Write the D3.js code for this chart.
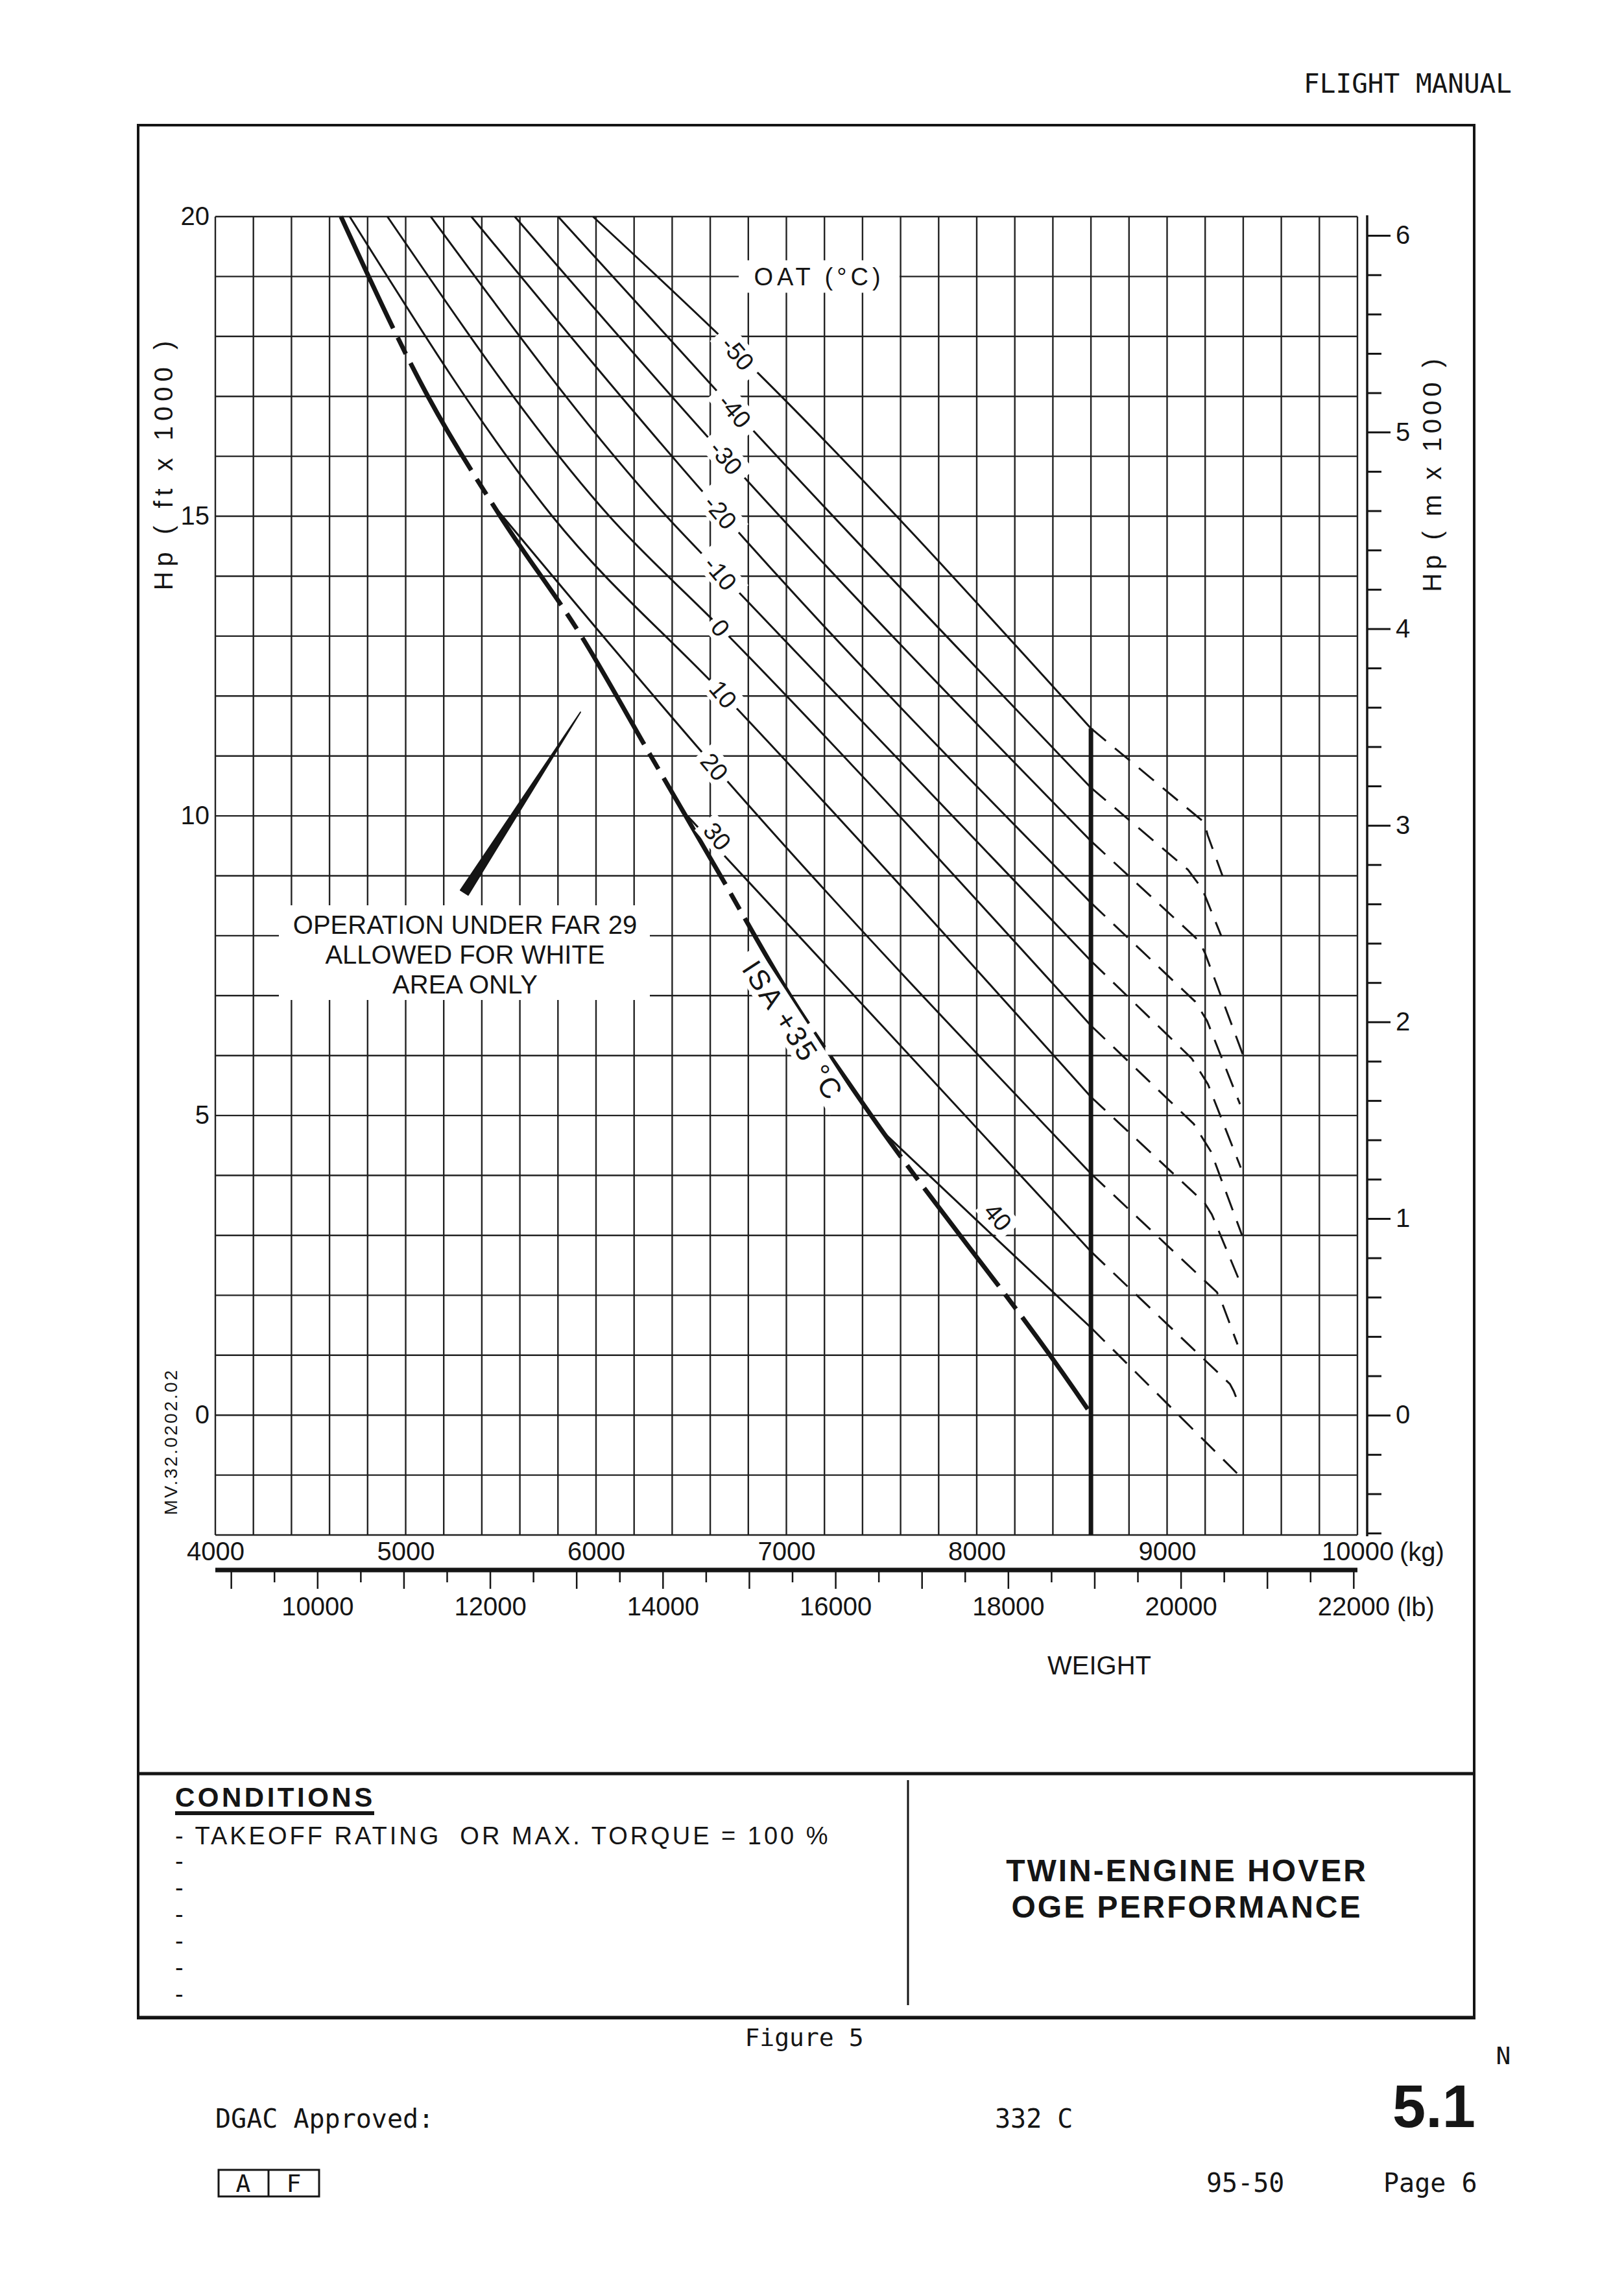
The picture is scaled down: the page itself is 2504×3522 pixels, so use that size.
<!DOCTYPE html>
<html>
<head>
<meta charset="utf-8">
<script src="https://cdn.jsdelivr.net/npm/d3@7"></script>
<style>
  body { margin: 0; background: #fff; }
  svg text { font-family: "Liberation Sans", Arial, sans-serif; fill: #151515; }
  svg text.mono { font-family: "DejaVu Sans Mono", monospace; }
</style>
</head>
<body>
<svg id="chart" width="2504" height="3522"></svg>
<script>
// ---- data ----
const kgTicks  = [4000, 5000, 6000, 7000, 8000, 9000, 10000];
const lbLabels = [10000, 12000, 14000, 16000, 18000, 20000, 22000];
const lbMajor  = [9000, 10000, 11000, 12000, 13000, 14000, 15000, 16000, 17000, 18000, 19000, 20000, 21000, 22000];
const lbMinor  = [9500, 10500, 11500, 12500, 13500, 14500, 15500, 16500, 17500, 18500, 19500, 20500, 21500];
const ftTicks  = [0, 5, 10, 15, 20];
const mTicks   = [0, 1000, 2000, 3000, 4000, 5000, 6000];

const oatTemps  = [-50, -40, -30, -20, -10, 0, 10, 20, 30, 40];
const oatLabels = ["-50", "-40", "-30", "-20", "-10", "0", "10", "20", "30", "40"];

// solid part of each OAT line, [kg, Hp x1000 ft]
const oatSolid = [
  [[5984, 20], [6745, 17.72], [8600, 11.46]],
  [[5801, 20], [6730, 16.76], [8600, 10.47]],
  [[5573, 20], [6684, 15.98], [8600, 9.58]],
  [[5345, 20], [6654, 15.07], [8600, 8.55]],
  [[5132, 20], [6370, 15.0], [6654, 14.05], [8600, 7.58]],
  [[4904, 20], [6070, 15.0], [6654, 13.14], [8600, 6.50]],
  [[4706, 20], [5770, 15.0], [6669, 12.03], [8600, 5.31]],
  [[5470, 15.15], [6623, 10.82], [8600, 4.03]],
  [[6480, 10.0], [7540, 6.37], [8600, 2.73]],
  [[7500, 4.75], [8050, 3.1], [8600, 1.46]]
];

// dashed extension beyond the weight limit
const oatDashed = [
  [[8600, 11.46], [9196, 9.89], [9213, 9.68], [9291, 9.0]],
  [[8600, 10.47], [9110, 9.1], [9185, 8.78], [9284, 8.0]],
  [[8600, 9.58], [9169, 7.91], [9199, 7.71], [9400, 6.0]],
  [[8600, 8.55], [9148, 6.9], [9210, 6.58], [9383, 5.19]],
  [[8600, 7.58], [9130, 5.95], [9215, 5.52], [9387, 4.13]],
  [[8600, 6.50], [9140, 4.86], [9230, 4.4], [9394, 3.0]],
  [[8600, 5.31], [9195, 3.55], [9235, 3.35], [9383, 2.22]],
  [[8600, 4.03], [9262, 2.05], [9290, 1.86], [9370, 1.18]],
  [[8600, 2.73], [9330, 0.52], [9350, 0.4], [9377, 0.18]],
  [[8600, 1.46], [9377, -1.0]]
];

const oatLabelPos = [[6745, 17.72], [6730, 16.76], [6684, 15.98], [6654, 15.07], [6654, 14.05],
                     [6654, 13.14], [6669, 12.03], [6623, 10.82], [6638, 9.66], [8112, 3.31]];

const isaLine = [[4660, 20], [5117, 17], [5497, 15], [5923, 13], [6288, 11], [6654, 9],
                 [7019, 7], [7402, 5.2], [8516, 0.41], [8583, 0.1]];

const weightLimit = 8600;           // kg, thick vertical
const weightLimitTop = 11.46;       // Hp where it starts
const pointer = [[5918, 11.73], [5308, 8.72]];

const FT_PER_M = 3.28084;
const LB_TO_KG = 0.45359237;

// ---- scales ----
const svg = d3.select("#chart");
const x = d3.scaleLinear().domain([4000, 10000]).range([332, 2093]);
const y = d3.scaleLinear().domain([-2, 20]).range([2367, 334]);
const mScale  = d3.scaleLinear().domain(y.domain().map(h => h * 1000 / FT_PER_M)).range(y.range());
const lbScale = d3.scaleLinear().domain(x.domain().map(k => k / LB_TO_KG)).range(x.range());

const ink = "#151515";

// ---- page frame ----
svg.append("rect").attr("width", 2504).attr("height", 3522).attr("fill", "#fff");
svg.append("text").attr("class", "mono").attr("x", 2331).attr("y", 143)
   .attr("text-anchor", "end").attr("font-size", 41).text("FLIGHT MANUAL");
svg.append("rect").attr("x", 213).attr("y", 193).attr("width", 2060).attr("height", 2919)
   .attr("fill", "none").attr("stroke", ink).attr("stroke-width", 4);

// ---- grid ----
const grid = svg.append("g").attr("stroke", "#222").attr("stroke-width", 2.4);
grid.selectAll("line.v").data(d3.range(4000, 10001, 200)).join("line")
    .attr("x1", d => x(d)).attr("x2", d => x(d)).attr("y1", y(20)).attr("y2", y(-2));
grid.selectAll("line.h").data(d3.range(-2, 21, 1)).join("line")
    .attr("x1", x(4000)).attr("x2", x(10000)).attr("y1", d => y(d)).attr("y2", d => y(d));

// ---- curves ----
const smooth = d3.line().x(d => x(d[0])).y(d => y(d[1])).curve(d3.curveMonotoneX);
const straight = d3.line().x(d => x(d[0])).y(d => y(d[1]));

svg.append("g").selectAll("path").data(oatSolid).join("path")
   .attr("d", smooth).attr("fill", "none").attr("stroke", ink).attr("stroke-width", 3);
svg.append("g").selectAll("path").data(oatDashed).join("path")
   .attr("d", straight).attr("fill", "none").attr("stroke", ink).attr("stroke-width", 3)
   .attr("stroke-dasharray", "30 18");

svg.append("path").datum(isaLine).attr("d", smooth).attr("fill", "none")
   .attr("stroke", ink).attr("stroke-width", 7).attr("stroke-dasharray", "190 16 28 16");

svg.append("line").attr("x1", x(weightLimit)).attr("x2", x(weightLimit))
   .attr("y1", y(weightLimitTop)).attr("y2", y(-2))
   .attr("stroke", ink).attr("stroke-width", 7);

// ---- annotation box ----
svg.append("rect").attr("x", 430).attr("y", 1396).attr("width", 572).attr("height", 146).attr("fill", "#fff");
["OPERATION UNDER FAR 29", "ALLOWED FOR WHITE", "AREA ONLY"].forEach((t, i) => {
  svg.append("text").attr("x", 717).attr("y", 1440 + i * 46).attr("text-anchor", "middle")
     .attr("font-size", 40).text(t);
});
{
  const p0 = [x(pointer[0][0]), y(pointer[0][1])];
  const p1 = [x(pointer[1][0]), y(pointer[1][1])];
  const dx = p1[0] - p0[0], dy = p1[1] - p0[1], len = Math.hypot(dx, dy);
  const nx = -dy / len, ny = dx / len, w = 7;
  svg.append("path")
     .attr("d", `M${p0[0]},${p0[1]} L${p1[0] + nx * w},${p1[1] + ny * w} L${p1[0] - nx * w},${p1[1] - ny * w} Z`)
     .attr("fill", ink).attr("stroke", ink).attr("stroke-width", 2).attr("stroke-linejoin", "round");
}

// ---- OAT labels ----
const lab = svg.append("g").selectAll("g").data(oatLabelPos).join("g")
   .attr("transform", d => `translate(${x(d[0])},${y(d[1])}) rotate(50)`);
lab.append("rect").attr("x", (d, i) => -oatLabels[i].length * 12 - 6).attr("y", -21)
   .attr("width", (d, i) => oatLabels[i].length * 24 + 12).attr("height", 42).attr("fill", "#fff");
lab.append("text").attr("text-anchor", "middle").attr("dy", "0.36em")
   .attr("font-size", 38).text((d, i) => oatLabels[i]);

{
  const g = svg.append("g").attr("transform", `translate(${x(7036)},${y(6.42)}) rotate(57)`);
  g.append("rect").attr("x", -140).attr("y", -24).attr("width", 280).attr("height", 48).attr("fill", "#fff");
  g.append("text").attr("text-anchor", "middle").attr("dy", "0.36em").attr("font-size", 44)
   .attr("letter-spacing", 3).text("ISA +35 °C");
}
{
  const g = svg.append("g").attr("transform", `translate(1263,${y(19)})`);
  g.append("rect").attr("x", -124).attr("y", -25).attr("width", 248).attr("height", 50).attr("fill", "#fff");
  g.append("text").attr("text-anchor", "middle").attr("dy", "0.36em").attr("font-size", 38)
   .attr("letter-spacing", 6).text("OAT (°C)");
}

// ---- left axis (ft) ----
svg.append("g").attr("transform", `translate(${x(4000)},0)`)
   .call(d3.axisLeft(y).tickValues(ftTicks).tickSize(0).tickPadding(9))
   .call(g => g.select(".domain").remove())
   .call(g => g.selectAll("text").attr("font-size", 40).attr("font-family", null).attr("fill", ink));
svg.append("text").attr("transform", "translate(266,714) rotate(-90)").attr("text-anchor", "middle")
   .attr("font-size", 40).attr("letter-spacing", 8).style("white-space", "pre").text("Hp ( ft x 1000 )");
svg.append("text").attr("transform", "translate(273,2223) rotate(-90)").attr("text-anchor", "middle")
   .attr("font-size", 28).attr("letter-spacing", 3).text("MV.32.0202.02");

// ---- right axis (m) ----
svg.append("line").attr("x1", 2108).attr("x2", 2108).attr("y1", y(20) - 2).attr("y2", y(-2) + 2)
   .attr("stroke", ink).attr("stroke-width", 3.5);
svg.append("g").attr("transform", "translate(2108,0)")
   .call(d3.axisRight(mScale).tickValues(d3.range(-600, 6001, 200).filter(v => v % 1000 !== 0))
           .tickSize(22).tickFormat(""))
   .call(g => g.select(".domain").remove())
   .call(g => g.selectAll("line").attr("stroke", ink).attr("stroke-width", 3));
svg.append("g").attr("transform", "translate(2108,0)")
   .call(d3.axisRight(mScale).tickValues(mTicks).tickSize(36).tickPadding(8).tickFormat(d => d / 1000))
   .call(g => g.select(".domain").remove())
   .call(g => g.selectAll("line").attr("stroke", ink).attr("stroke-width", 3))
   .call(g => g.selectAll("text").attr("font-size", 40).attr("font-family", null).attr("fill", ink));
svg.append("text").attr("transform", "translate(2222,730) rotate(-90)").attr("text-anchor", "middle")
   .attr("font-size", 40).attr("letter-spacing", 6).style("white-space", "pre").text("Hp ( m x 1000 )");

// ---- bottom axes (kg / lb) ----
svg.append("g").attr("transform", `translate(0,${y(-2)})`)
   .call(d3.axisBottom(x).tickValues(kgTicks).tickSize(0).tickPadding(11).tickFormat(d3.format("d")))
   .call(g => g.select(".domain").remove())
   .call(g => g.selectAll("text").attr("font-size", 40).attr("font-family", null).attr("fill", ink));
svg.append("text").attr("x", 2158).attr("y", 2407).attr("font-size", 40).text("(kg)");

svg.append("line").attr("x1", x(4000)).attr("x2", x(10000)).attr("y1", 2421).attr("y2", 2421)
   .attr("stroke", ink).attr("stroke-width", 7);
svg.append("g").attr("transform", "translate(0,2424)")
   .call(d3.axisBottom(lbScale).tickValues(lbMinor).tickSize(16).tickFormat(""))
   .call(g => g.select(".domain").remove())
   .call(g => g.selectAll("line").attr("stroke", ink).attr("stroke-width", 2.5));
svg.append("g").attr("transform", "translate(0,2424)")
   .call(d3.axisBottom(lbScale).tickValues(lbMajor).tickSize(26).tickFormat(""))
   .call(g => g.select(".domain").remove())
   .call(g => g.selectAll("line").attr("stroke", ink).attr("stroke-width", 2.5));
svg.append("g").attr("transform", "translate(0,2424)")
   .call(d3.axisBottom(lbScale).tickValues(lbLabels).tickSize(26).tickPadding(13).tickFormat(d3.format("d")))
   .call(g => g.select(".domain").remove())
   .call(g => g.selectAll("line").remove())
   .call(g => g.selectAll("text").attr("font-size", 40).attr("font-family", null).attr("fill", ink));
svg.append("text").attr("x", 2154).attr("y", 2492).attr("font-size", 40).text("(lb)");

svg.append("text").attr("x", 1695).attr("y", 2582).attr("text-anchor", "middle")
   .attr("font-size", 40).text("WEIGHT");

// ---- conditions block ----
svg.append("line").attr("x1", 213).attr("x2", 2273).attr("y1", 2735).attr("y2", 2735)
   .attr("stroke", ink).attr("stroke-width", 5);
svg.append("line").attr("x1", 1400).attr("x2", 1400).attr("y1", 2745).attr("y2", 3092)
   .attr("stroke", ink).attr("stroke-width", 3);
svg.append("line").attr("x1", 213).attr("x2", 2273).attr("y1", 3111).attr("y2", 3111)
   .attr("stroke", ink).attr("stroke-width", 5);

svg.append("text").attr("x", 270).attr("y", 2786).attr("font-size", 42).attr("font-weight", "bold")
   .attr("letter-spacing", 4.5).text("CONDITIONS");
svg.append("rect").attr("x", 270).attr("y", 2793).attr("width", 307).attr("height", 6).attr("fill", ink);
svg.append("text").attr("x", 270).attr("y", 2844).attr("font-size", 38).attr("letter-spacing", 4)
   .style("white-space", "pre").text("- TAKEOFF RATING  OR MAX. TORQUE = 100 %");
[2871, 2912, 2953, 2994, 3035, 3076].forEach(cy => {
  svg.append("text").attr("x", 270).attr("y", cy + 12).attr("font-size", 38).text("-");
});
svg.append("text").attr("x", 1830).attr("y", 2901).attr("text-anchor", "middle").attr("font-size", 48)
   .attr("font-weight", "bold").attr("letter-spacing", 3).text("TWIN-ENGINE HOVER");
svg.append("text").attr("x", 1830).attr("y", 2957).attr("text-anchor", "middle").attr("font-size", 48)
   .attr("font-weight", "bold").attr("letter-spacing", 3).text("OGE PERFORMANCE");

// ---- footer ----
svg.append("text").attr("class", "mono").attr("x", 1240).attr("y", 3155).attr("text-anchor", "middle")
   .attr("font-size", 38).text("Figure 5");
svg.append("text").attr("class", "mono").attr("x", 2318).attr("y", 3183).attr("text-anchor", "middle")
   .attr("font-size", 38).text("N");
svg.append("text").attr("x", 2275).attr("y", 3280).attr("text-anchor", "end").attr("font-size", 92)
   .attr("font-weight", "bold").text("5.1");
svg.append("text").attr("class", "mono").attr("x", 332).attr("y", 3281).attr("font-size", 40).text("DGAC Approved:");
svg.append("text").attr("class", "mono").attr("x", 1534).attr("y", 3281).attr("font-size", 40).text("332 C");
svg.append("rect").attr("x", 337).attr("y", 3346).attr("width", 155).attr("height", 41)
   .attr("fill", "none").attr("stroke", ink).attr("stroke-width", 3);
svg.append("line").attr("x1", 414).attr("x2", 414).attr("y1", 3346).attr("y2", 3387)
   .attr("stroke", ink).attr("stroke-width", 3);
svg.append("text").attr("class", "mono").attr("x", 375).attr("y", 3380).attr("text-anchor", "middle")
   .attr("font-size", 38).text("A");
svg.append("text").attr("class", "mono").attr("x", 453).attr("y", 3380).attr("text-anchor", "middle")
   .attr("font-size", 38).text("F");
svg.append("text").attr("class", "mono").attr("x", 1860).attr("y", 3380).attr("font-size", 40).text("95-50");
svg.append("text").attr("class", "mono").attr("x", 2133).attr("y", 3380).attr("font-size", 40).text("Page 6");
</script>
</body>
</html>
